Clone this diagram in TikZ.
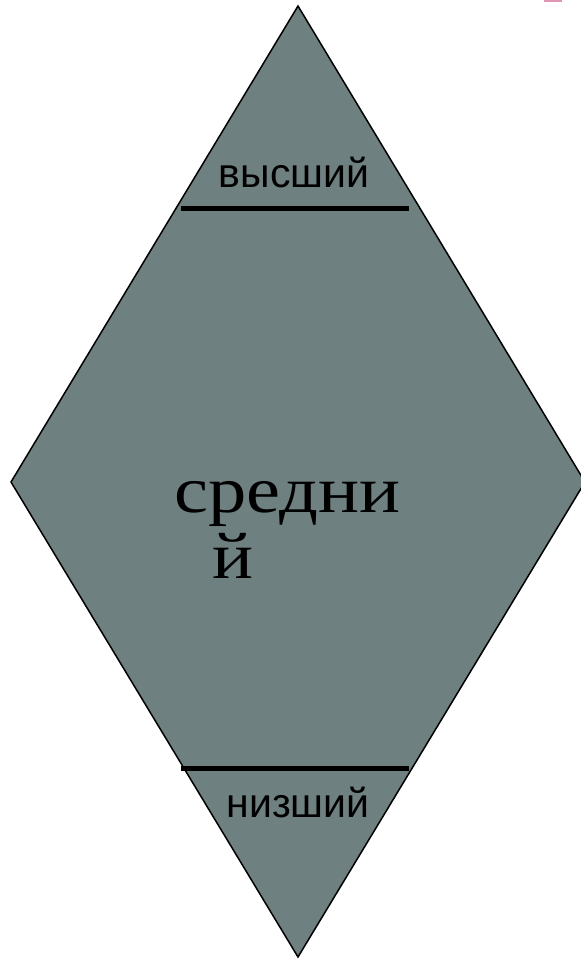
\documentclass[tikz,border=0pt]{standalone}
\usepackage{fontspec}
\setmainfont{Liberation Serif}
\newfontfamily\arialf{Liberation Sans}
\definecolor{fillgray}{RGB}{111,128,128}
\definecolor{pinkmark}{RGB}{222,150,180}
\begin{document}
\begin{tikzpicture}[x=1pt,y=-1pt,
  bar/.style={line width=5pt,black},
  smalllab/.style={font=\arialf\fontsize{41}{42}\selectfont,anchor=base,inner sep=0pt},
  biglab/.style={font=\fontsize{66}{66}\selectfont,anchor=base west,inner sep=0pt}]
\useasboundingbox (0,0) rectangle (581,959);
\fill[pinkmark] (544,0) rectangle (562,2);
\coordinate (T) at (298,6);
\coordinate (L) at (11,482);
\coordinate (R) at (585,482);
\coordinate (B) at (298,957);
\filldraw[fill=fillgray,draw=black,line width=1.5pt,line join=miter] (T) -- (R) -- (B) -- (L) -- cycle;
\coordinate (a1) at (181,208);
\coordinate (a2) at (409,208);
\coordinate (b1) at (181,768);
\coordinate (b2) at (409,768);
\draw[bar] (a1) -- (a2);
\draw[bar] (b1) -- (b2);
\node[smalllab] (hi) at (294,187) {высший};
\node[smalllab] (lo) at (298,817) {низший};
\node[biglab] (mid1) at (174,512) {\scalebox{1.16}[1]{средни}};
\node[biglab] (mid2) at (212,578) {\scalebox{1.16}[1]{й}};
\end{tikzpicture}
\end{document}
